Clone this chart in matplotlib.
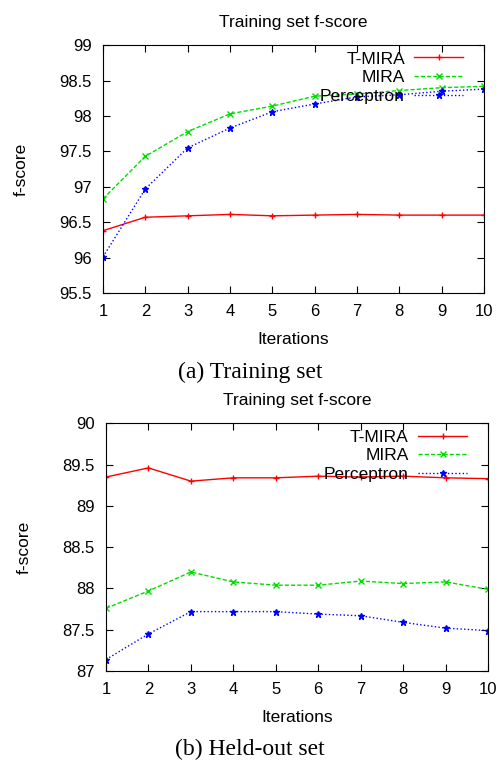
import matplotlib
matplotlib.use("Agg")
import matplotlib.pyplot as plt

plt.rcParams['font.family'] = ['Liberation Sans', 'DejaVu Sans']

iterations = [1, 2, 3, 4, 5, 6, 7, 8, 9, 10]

# (a) training set
train_tmira = [96.38, 96.57, 96.59, 96.61, 96.59, 96.60, 96.61, 96.60, 96.60, 96.60]
train_mira = [96.83, 97.43, 97.78, 98.03, 98.14, 98.28, 98.31, 98.36, 98.40, 98.42]
train_perc = [96.01, 96.97, 97.55, 97.83, 98.06, 98.17, 98.27, 98.30, 98.35, 98.38]

# (b) held-out set
held_tmira = [89.35, 89.46, 89.30, 89.34, 89.34, 89.36, 89.35, 89.36, 89.34, 89.33]
held_mira = [87.76, 87.97, 88.20, 88.08, 88.04, 88.04, 88.09, 88.06, 88.08, 87.99]
held_perc = [87.14, 87.45, 87.72, 87.72, 87.72, 87.69, 87.67, 87.59, 87.52, 87.49]

fig = plt.figure(figsize=(5, 7.6), dpi=100)


def draw_panel(ax, tmira, mira, perc, ylim, yticks):
    ax.plot(iterations, tmira, color='#ff0000', linestyle='-', marker='+',
            markersize=5, linewidth=1, label='T-MIRA')
    ax.plot(iterations, mira, color='#00dd00', linestyle='--', marker='x',
            markersize=4, linewidth=1, dashes=(3, 1.5), label='MIRA')
    ax.plot(iterations, perc, color='#0000ff', linestyle=':', marker='*',
            markersize=5, linewidth=1, label='Perceptron')
    ax.set_xlim(1, 10)
    ax.set_ylim(*ylim)
    ax.set_xticks(iterations)
    ax.set_yticks(yticks)
    ax.set_yticklabels([('%g' % t) for t in yticks])
    ax.tick_params(direction='in', top=True, right=True, length=5,
                   labelsize=12, pad=8)
    ax.set_title('Training set f-score', fontsize=12.5, pad=13)
    ax.set_xlabel('Iterations', fontsize=12.5, labelpad=9)
    ax.set_ylabel('f-score', fontsize=12.5, labelpad=22)
    ax.legend(loc='upper right', bbox_to_anchor=(0.945, 0.975), frameon=False,
              markerfirst=False, fontsize=12.5, handlelength=2.8,
              labelspacing=0.2, handletextpad=0.55, borderpad=0,
              borderaxespad=0)


ax1 = fig.add_axes([0.206, 0.6145, 0.762, 0.326])
draw_panel(ax1, train_tmira, train_mira, train_perc, (95.5, 99),
           [95.5, 96, 96.5, 97, 97.5, 98, 98.5, 99])

ax2 = fig.add_axes([0.212, 0.117, 0.764, 0.326])
draw_panel(ax2, held_tmira, held_mira, held_perc, (87, 90),
           [87, 87.5, 88, 88.5, 89, 89.5, 90])

fig.text(0.5, 1 - 372 / 760, '(a) Training set', ha='center', va='center',
         fontsize=17, family=['Liberation Serif', 'DejaVu Serif'])
fig.text(0.5, 1 - 749 / 760, '(b) Held-out set', ha='center', va='center',
         fontsize=17, family=['Liberation Serif', 'DejaVu Serif'])

fig.savefig('out.png', dpi=100)
